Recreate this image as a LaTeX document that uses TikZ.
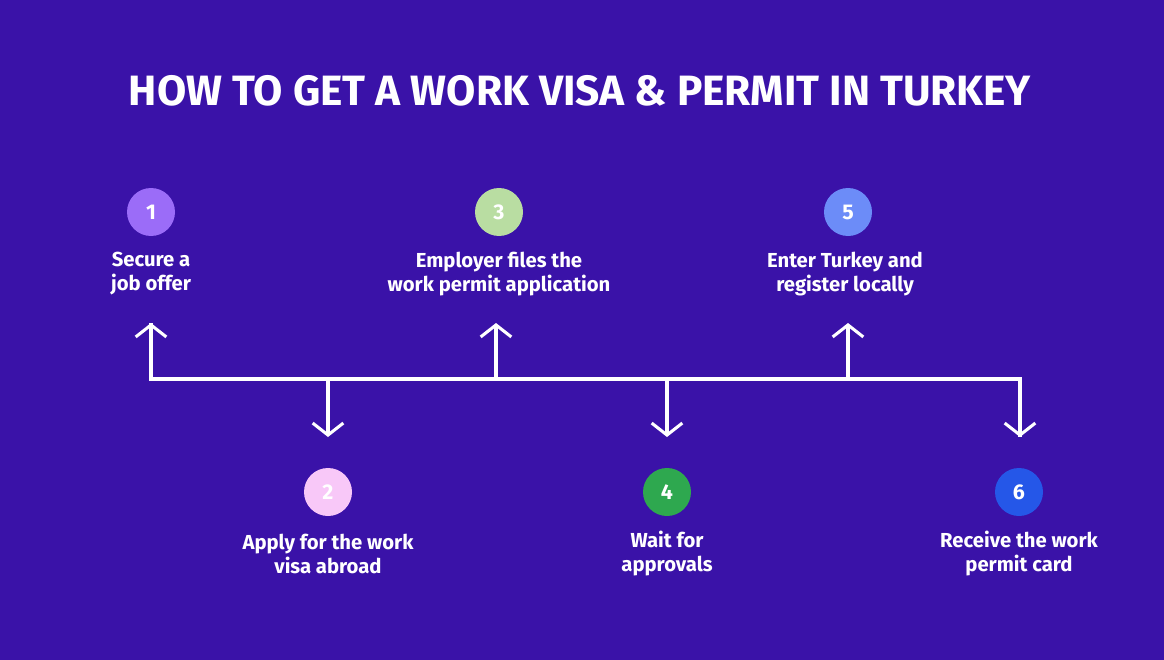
\documentclass[tikz,border=0pt]{standalone}
\usepackage{fontspec}
\setmainfont{Fira Sans}
\usetikzlibrary{arrows.meta}
\definecolor{bg}{HTML}{3A12A8}
\definecolor{c1}{HTML}{9B6CF8}
\definecolor{c2}{HTML}{F8C8F8}
\definecolor{c3}{HTML}{B9DDA2}
\definecolor{c4}{HTML}{2EA84F}
\definecolor{c5}{HTML}{6C8CF8}
\definecolor{c6}{HTML}{2557E8}
\begin{document}
\begin{tikzpicture}[x=0.75pt,y=-0.75pt,
  num/.style={circle,minimum size=36pt,inner sep=0pt,text=white,font=\fontsize{16}{16}\selectfont\bfseries},
  lbl/.style={text=white,align=center,font=\fontsize{15.2}{18}\selectfont\bfseries},
  conn/.style={white,line width=2.3pt},
  arr/.style={conn,-{Straight Barb[length=9pt,width=23pt,line width=2.3pt]}}]
\fill[bg] (0,0) rectangle (1164,660);
\useasboundingbox (0,0) rectangle (1164,660);
\node[text=white,font=\fontsize{31.8}{34}\selectfont\bfseries] (title) at (580,91) {HOW TO GET A WORK VISA \& PERMIT IN TURKEY};
\node[num,fill=c1] (n1) at (151,212) {1};
\node[num,fill=c2] (n2) at (328,492) {2};
\node[num,fill=c3] (n3) at (499,212) {3};
\node[num,fill=c4] (n4) at (667,492) {4};
\node[num,fill=c5] (n5) at (848,212) {5};
\node[num,fill=c6] (n6) at (1019,492) {6};
\node[lbl] (l1) at (151,274) {Secure a\\job offer};
\node[lbl] (l2) at (328,554) {Apply for the work\\visa abroad};
\node[lbl] (l3) at (499,274) {Employer files the\\work permit application};
\node[lbl] (l4) at (667,554) {Wait for\\approvals};
\node[lbl] (l5) at (845,274) {Enter Turkey and\\register locally};
\node[lbl] (l6) at (1019,554) {Receive the work\\permit card};
\coordinate (a) at (151,379); \coordinate (b) at (328,379);
\coordinate (c) at (496,379); \coordinate (d) at (667,379);
\coordinate (e) at (848,379); \coordinate (f) at (1020,379);
\coordinate (ta) at (151,323); \coordinate (tc) at (496,323); \coordinate (te) at (848,323);
\coordinate (tb) at (328,437); \coordinate (td) at (667,437); \coordinate (tf) at (1020,437);
\draw[conn,line join=miter] (ta) -- (a) -- (f) -- (tf);
\draw[arr] (a) -- (ta);
\draw[arr] (c) -- (tc);
\draw[arr] (e) -- (te);
\draw[arr] (b) -- (tb);
\draw[arr] (d) -- (td);
\draw[arr] (f) -- (tf);
\end{tikzpicture}
\end{document}
